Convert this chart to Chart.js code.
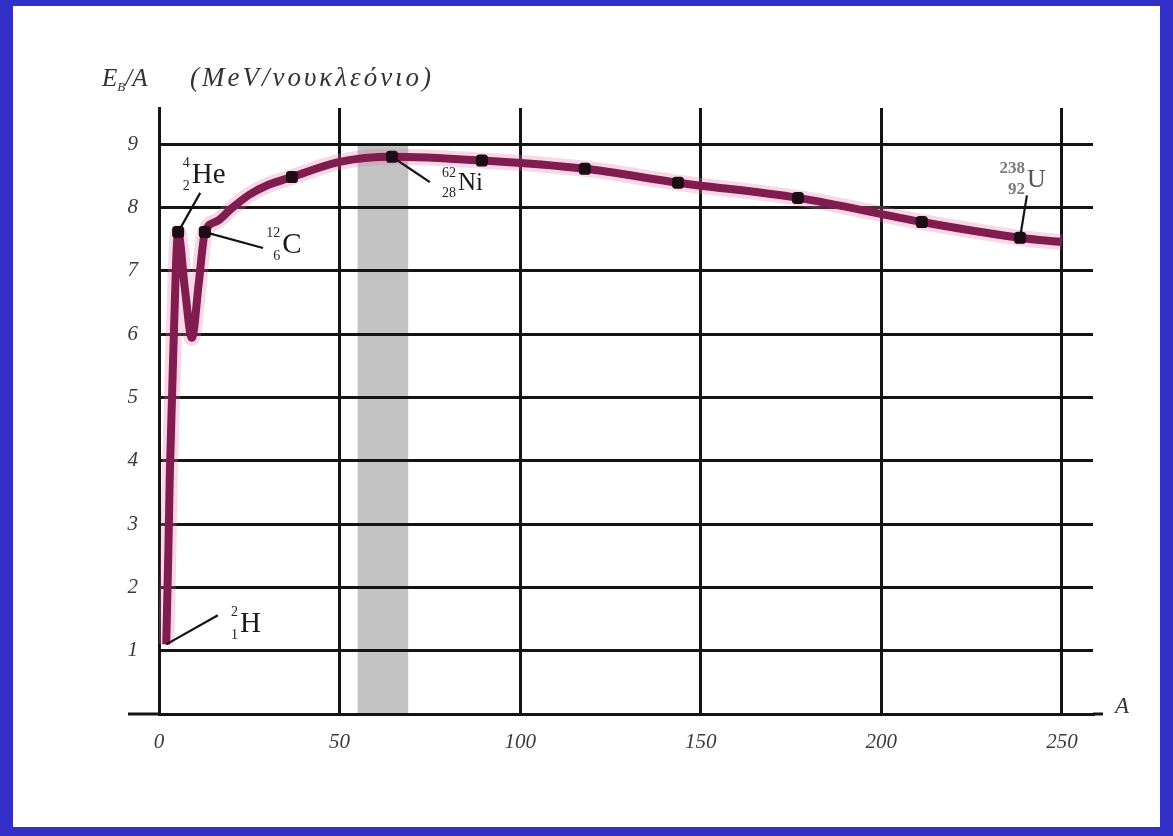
<!DOCTYPE html>
<html>
<head>
<meta charset="utf-8">
<script src="https://cdn.jsdelivr.net/npm/chart.js@4"></script>
<style>
  html, body { margin:0; padding:0; background:#3230c8; width:1173px; height:836px; overflow:hidden; }
  #frame { position:absolute; left:13px; top:6px; right:13px; bottom:9px; background:#fff; }
  #chart { position:absolute; left:0; top:0; }
</style>
</head>
<body>
<div id="frame"></div>
<canvas id="chart" width="1173" height="836"></canvas>
<script>
// ─── data (A = mass number, E = MeV per nucleon) ──────────────────────────────
const curveA = [2, 2.6, 3.0, 3.9, 5.3, 7.2, 9.1, 11, 12.7, 16, 20, 25, 30, 36.8, 50, 64.5, 89.4, 117.9, 143.7, 176.9, 211.2, 238.4, 250];
const curveE = [1.1, 2.6, 3.8, 5.6, 7.6, 6.7, 5.94, 6.8, 7.6, 7.78, 7.98, 8.2, 8.35, 8.48, 8.72, 8.80, 8.74, 8.61, 8.39, 8.15, 7.77, 7.52, 7.45];

const markA = [5.3, 12.7, 36.8, 64.5, 89.4, 117.9, 143.7, 176.9, 211.2, 238.4];
const markE = [7.61, 7.61, 8.48, 8.80, 8.74, 8.61, 8.39, 8.15, 7.77, 7.52];

const xTicks = [0, 50, 100, 150, 200, 250];
const yTicks = [1, 2, 3, 4, 5, 6, 7, 8, 9];

const bandFrom = 55, bandTo = 69;   // shaded iron/nickel region

// labelled nuclides: marker point, end of leader line, symbol position
const nucSym  = ['H', 'He', 'C', 'Ni', 'U'];
const nucSup  = ['2', '4', '12', '62', '238'];
const nucSub  = ['1', '2', '6', '28', '92'];
const nucAt   = [[2, 1.1], [5.3, 7.61], [12.7, 7.61], [64.5, 8.80], [238.4, 7.52]];
const nucTip  = [[16.3, 1.56], [11.4, 8.23], [28.8, 7.36], [75, 8.4], [240.3, 8.19]];
const nucLbl  = [[22.4, 1.29], [9.1, 8.38], [34.1, 7.28], [82.8, 8.27], [240.3, 8.32]];

const SERIF = '"Liberation Serif", "DejaVu Serif", serif';
const INK   = '#141414';

const toXY = (xs, ys) => xs.map((x, i) => ({ x, y: ys[i] }));

const leaderSets = nucAt.map((p, i) => ({
  data: [{ x: p[0], y: p[1] }, { x: nucTip[i][0], y: nucTip[i][1] }],
  borderColor: INK, borderWidth: 2.2, pointRadius: 0, order: 1,
}));

// ─── plugin: shaded band, axis extensions, title and nuclide labels ───────────
const decor = {
  id: 'decor',
  beforeDraw(chart) {
    const { ctx, scales: { x, y } } = chart;
    const l = x.getPixelForValue(bandFrom), r = x.getPixelForValue(bandTo);
    const t = y.getPixelForValue(9), b = y.getPixelForValue(0);
    ctx.save();
    ctx.fillStyle = '#c3c3c3';
    ctx.fillRect(l, t, r - l, b - t);
    ctx.restore();
  },
  afterDraw(chart) {
    const { ctx, chartArea: ca, scales: { x, y } } = chart;
    const y0 = y.getPixelForValue(0);
    ctx.save();
    // x axis runs a little past both ends
    ctx.strokeStyle = INK; ctx.lineWidth = 3;
    ctx.beginPath();
    ctx.moveTo(ca.left - 31, y0); ctx.lineTo(ca.left, y0);
    ctx.moveTo(ca.right, y0);     ctx.lineTo(ca.right + 10, y0);
    ctx.stroke();

    ctx.fillStyle = '#333';
    ctx.textBaseline = 'alphabetic';
    ctx.font = `italic 23px ${SERIF}`;
    ctx.fillText('A', ca.right + 22, y0 - 1);

    // axis title  E_B/A (MeV/νουκλεόνιο)
    let tx = ca.left - 57, ty = ca.top - 22;
    ctx.font = `italic 25px ${SERIF}`;
    ctx.fillText('E', tx, ty); tx += ctx.measureText('E').width;
    ctx.font = `italic 13px ${SERIF}`;
    ctx.fillText('B', tx, ty + 5); tx += ctx.measureText('B').width;
    ctx.font = `italic 25px ${SERIF}`;
    ctx.fillText('/A', tx, ty);
    ctx.font = `italic 27px ${SERIF}`;
    ctx.letterSpacing = '3px';
    ctx.fillText('(MeV/νουκλεόνιο)', ca.left + 31, ty);
    ctx.letterSpacing = '0px';

    // nuclide symbols with mass / atomic number
    nucSym.forEach((s, i) => {
      const px = x.getPixelForValue(nucLbl[i][0]);
      const py = y.getPixelForValue(nucLbl[i][1]);
      const big = s === 'Ni' ? 25 : (s === 'U' ? 26 : 29);
      const isU = s === 'U';
      ctx.fillStyle = isU ? '#7a7a7a' : '#222';
      ctx.font = `${isU ? 'bold ' : ''}${isU ? 17 : 14}px ${SERIF}`;
      ctx.textAlign = 'right';
      ctx.fillText(nucSup[i], px - 2, py - big * 0.55);
      ctx.fillText(nucSub[i], px - 2, py + 7);
      ctx.textAlign = 'left';
      ctx.fillStyle = isU ? '#555' : '#1a1a1a';
      ctx.font = `${big}px ${SERIF}`;
      ctx.fillText(s, px, py);
    });
    ctx.restore();
  }
};

new Chart(document.getElementById('chart'), {
  type: 'line',
  data: {
    datasets: [
      { data: toXY(markA, markE), showLine: false, pointStyle: 'rectRounded', pointRadius: 7,
        pointBackgroundColor: '#1c0c14', pointBorderWidth: 0, order: 0 },
      ...leaderSets,
      { data: toXY(curveA, curveE), borderColor: '#801c4f', borderWidth: 8, pointRadius: 0,
        cubicInterpolationMode: 'monotone', order: 2 },
      { data: toXY(curveA, curveE), borderColor: 'rgba(230,110,170,0.28)', borderWidth: 16, pointRadius: 0,
        cubicInterpolationMode: 'monotone', order: 3 },
    ]
  },
  options: {
    responsive: false,
    devicePixelRatio: 1,
    animation: false,
    layout: { padding: { left: 119, top: 108, right: 80, bottom: 82 } },
    plugins: { legend: { display: false }, tooltip: { enabled: false } },
    scales: {
      x: {
        type: 'linear', min: 0, max: 258.6,
        afterBuildTicks: s => { s.ticks = xTicks.map(v => ({ value: v })); },
        afterFit: s => { s.height = 40; },
        grid: { color: INK, lineWidth: 3, drawTicks: false },
        border: { display: true, color: INK, width: 3 },
        ticks: { color: '#3a3a3a', padding: 16, font: { family: SERIF, style: 'italic', size: 21 } }
      },
      y: {
        type: 'linear', min: 0, max: 9.57,
        afterBuildTicks: s => { s.ticks = yTicks.map(v => ({ value: v })); },
        afterFit: s => { s.width = 40; },
        grid: { color: INK, lineWidth: 3, drawTicks: false },
        border: { display: true, color: INK, width: 3 },
        ticks: { color: '#3a3a3a', padding: 21, font: { family: SERIF, style: 'italic', size: 21 } }
      }
    }
  },
  plugins: [decor]
});
</script>
</body>
</html>
